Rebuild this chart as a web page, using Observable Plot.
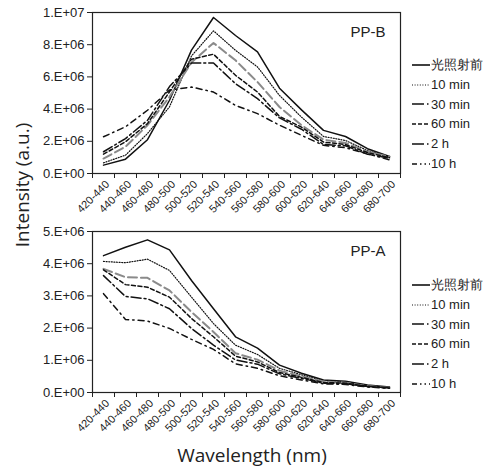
<!DOCTYPE html>
<html><head><meta charset="utf-8">
<script src="https://cdn.jsdelivr.net/npm/d3@7"></script>
<script src="https://cdn.jsdelivr.net/npm/@observablehq/plot@0.6"></script>
<style>
html,body{margin:0;padding:0;background:#fff;}
#wrap{position:relative;width:497px;height:468px;font-family:"Liberation Sans",Arial,sans-serif;color:#222;}
.panel{position:absolute;left:0;}
.legend{position:absolute;left:412px;font-size:13px;line-height:20px;}
.legend div{display:flex;align-items:center;height:19.8px;white-space:nowrap;}
.legend svg{margin-right:1px;}
.ytitle{position:absolute;left:22px;top:185px;transform:translate(-50%,-50%) rotate(-90deg);font-size:19px;white-space:nowrap;font-family:"Open Sans","Liberation Sans",sans-serif;}
.xtitle{position:absolute;left:252px;top:455px;transform:translate(-50%,-50%);font-size:19px;white-space:nowrap;font-family:"Open Sans","Liberation Sans",sans-serif;}
</style></head>
<body><div id="wrap"></div>
<script>
const categories = ["420-440","440-460","460-480","480-500","500-520","520-540","540-560","560-580","580-600","600-620","620-640","640-660","660-680","680-700"];
const seriesNames = ["光照射前","10 min","30 min","60 min","2 h","10 h"];

// PP-B (top panel)
const ppB_before = [0.52e6,0.89e6,2.1e6,4.55e6,7.66e6,9.69e6,8.57e6,7.55e6,5.3e6,3.95e6,2.68e6,2.3e6,1.54e6,1.06e6];
const ppB_10min  = [0.66e6,1.14e6,2.48e6,4.14e6,7.3e6,8.86e6,7.65e6,6.62e6,4.85e6,3.5e6,2.3e6,2.05e6,1.43e6,1.01e6];
const ppB_30min  = [0.93e6,1.66e6,3.0e6,4.76e6,6.9e6,8.11e6,7.03e6,5.68e6,4.13e6,3.0e6,2.1e6,1.9e6,1.35e6,1.05e6];
const ppB_60min  = [1.2e6,1.97e6,3.1e6,5.07e6,7.1e6,7.41e6,6.1e6,5.06e6,3.54e6,2.88e6,1.95e6,1.8e6,1.3e6,0.98e6];
const ppB_2h     = [1.35e6,2.17e6,3.3e6,5.4e6,6.86e6,6.86e6,5.58e6,4.65e6,3.45e6,2.75e6,1.8e6,1.72e6,1.2e6,0.95e6];
const ppB_10h    = [2.28e6,2.9e6,3.93e6,5.18e6,5.37e6,5.06e6,4.23e6,3.72e6,3.0e6,2.37e6,1.75e6,1.6e6,1.22e6,0.85e6];

// PP-A (bottom panel)
const ppA_before = [4.25e6,4.51e6,4.74e6,4.43e6,3.48e6,2.6e6,1.73e6,1.38e6,0.85e6,0.6e6,0.39e6,0.35e6,0.23e6,0.17e6];
const ppA_10min  = [4.07e6,4.03e6,4.14e6,3.79e6,2.96e6,2.14e6,1.47e6,1.18e6,0.75e6,0.55e6,0.37e6,0.32e6,0.21e6,0.16e6];
const ppA_30min  = [3.84e6,3.58e6,3.56e6,3.17e6,2.5e6,1.88e6,1.22e6,1.02e6,0.68e6,0.5e6,0.34e6,0.3e6,0.2e6,0.15e6];
const ppA_60min  = [3.81e6,3.35e6,3.27e6,2.96e6,2.3e6,1.73e6,1.13e6,0.95e6,0.62e6,0.47e6,0.31e6,0.29e6,0.19e6,0.14e6];
const ppA_2h     = [3.63e6,2.98e6,2.91e6,2.6e6,1.99e6,1.47e6,1.01e6,0.88e6,0.58e6,0.44e6,0.29e6,0.27e6,0.19e6,0.14e6];
const ppA_10h    = [3.07e6,2.27e6,2.22e6,1.99e6,1.65e6,1.34e6,0.89e6,0.75e6,0.52e6,0.39e6,0.27e6,0.25e6,0.17e6,0.13e6];

const topTicks = [0,2e6,4e6,6e6,8e6,1e7];
const topTickLabels = ["0.E+00","2.E+06","4.E+06","6.E+06","8.E+06","1.E+07"];
const botTicks = [0,1e6,2e6,3e6,4e6,5e6];
const botTickLabels = ["0.E+00","1.E+06","2.E+06","3.E+06","4.E+06","5.E+06"];

const styles = [
  {stroke:"#111", strokeWidth:1.5, dash:null, legendDash:null},
  {stroke:"#111", strokeWidth:1.2, dash:"1,1.6", legendDash:"1,1.6"},
  {stroke:"#8a8a8a", strokeWidth:2, dash:"9,4", legendDash:"12,3,1.5,3"},
  {stroke:"#111", strokeWidth:1.5, dash:"4,2.5", legendDash:"4,2"},
  {stroke:"#111", strokeWidth:1.5, dash:"10,3,2,3", legendDash:"12,3,1.5,3"},
  {stroke:"#111", strokeWidth:1.5, dash:"6,4,1.5,4", legendDash:"5,3,1.5,3,1.5,3"}
];

function makePanel(seriesArrays, ticks, tickLabels, ymax, label) {
  const boundaries = d3.range(categories.length + 1).map(i => i - 0.5);
  const idx = d3.range(categories.length);
  const marks = [];
  seriesArrays.forEach((arr, s) => {
    const rows = arr.map((v, i) => ({i, v, series: seriesNames[s]}));
    marks.push(Plot.line(rows, {x: "i", y: "v", stroke: styles[s].stroke, strokeWidth: styles[s].strokeWidth, strokeDasharray: styles[s].dash || undefined}));
  });
  marks.push(Plot.frame({stroke: "#222", strokeWidth: 1.2}));
  marks.push(Plot.axisY(ticks, {tickSize: 5, tickPadding: 3, fontSize: 13, label: null, tickFormat: d => tickLabels[ticks.indexOf(d)]}));
  marks.push(Plot.axisX(boundaries, {tickSize: 5, tickFormat: () => "", label: null}));
  marks.push(Plot.axisX(idx, {tickSize: 0, tickPadding: 9, tickRotate: -45, dx: 4, fontSize: 11, label: null, tickFormat: d => categories[d]}));
  marks.push(Plot.text([label], {frameAnchor: "top-right", dx: -15, dy: 20, lineAnchor: "middle", textAnchor: "end", fontSize: 15, fill: "#222"}));
  return Plot.plot({
    width: 402, height: 225,
    marginLeft: 92, marginRight: 2, marginTop: 12, marginBottom: 52,
    style: {fontFamily: '"Liberation Sans", Arial, sans-serif', color: "#222", background: "transparent"},
    x: {domain: [-0.5, categories.length - 0.5], axis: null},
    y: {domain: [0, ymax], axis: null},
    marks
  });
}

const wrap = document.getElementById("wrap");
const topPanel = makePanel([ppB_before, ppB_10min, ppB_30min, ppB_60min, ppB_2h, ppB_10h], topTicks, topTickLabels, 1e7, "PP-B");
topPanel.classList.add("panel"); topPanel.style.top = "0px";
wrap.appendChild(topPanel);
const botPanel = makePanel([ppA_before, ppA_10min, ppA_30min, ppA_60min, ppA_2h, ppA_10h], botTicks, botTickLabels, 5e6, "PP-A");
botPanel.classList.add("panel"); botPanel.style.top = "219px";
wrap.appendChild(botPanel);

function makeLegend(topPx) {
  const lg = document.createElement("div");
  lg.className = "legend";
  lg.style.top = topPx + "px";
  seriesNames.forEach((name, s) => {
    const row = document.createElement("div");
    const st = styles[s];
    row.innerHTML = `<svg width="18" height="10"><line x1="0" x2="18" y1="5" y2="5" stroke="#111" stroke-width="${s===1?1.2:1.6}" ${st.legendDash ? `stroke-dasharray="${st.legendDash}"` : ""}/></svg><span>${name}</span>`;
    lg.appendChild(row);
  });
  wrap.appendChild(lg);
}
makeLegend(55);
makeLegend(275);

const yt = document.createElement("div"); yt.className = "ytitle"; yt.textContent = "Intensity (a.u.)"; wrap.appendChild(yt);
const xt = document.createElement("div"); xt.className = "xtitle"; xt.textContent = "Wavelength (nm)"; wrap.appendChild(xt);
</script>
</body></html>
